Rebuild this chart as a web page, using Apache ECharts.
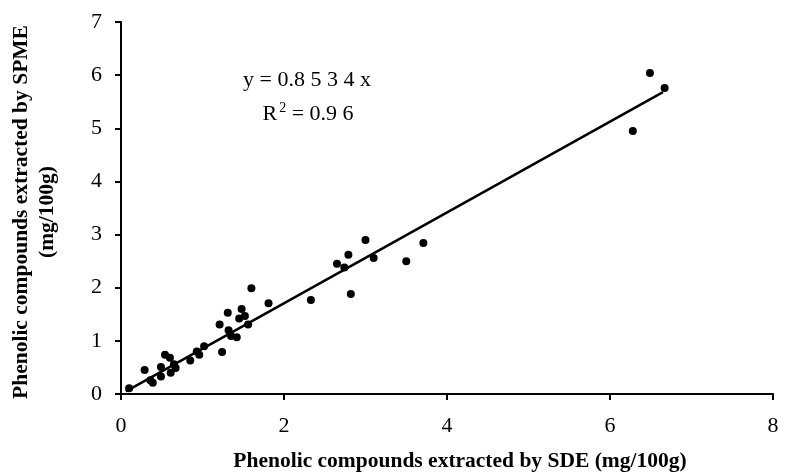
<!DOCTYPE html>
<html>
<head>
<meta charset="utf-8">
<script src="https://cdn.jsdelivr.net/npm/echarts@6/dist/echarts.min.js"></script>
<style>
  html, body { margin: 0; padding: 0; background: #fff; }
  #chart { width: 789px; height: 472px; }
</style>
</head>
<body>
<div id="chart"></div>
<script>
// SDE (x) vs SPME (y), mg/100g
const sdeValues = [0.10, 0.29, 0.36, 0.39, 0.49, 0.49, 0.54, 0.60, 0.61, 0.65, 0.67, 0.85, 0.93, 0.96, 1.02,
  1.21, 1.24, 1.31, 1.32, 1.35, 1.42, 1.45, 1.48, 1.52, 1.56, 1.60, 1.81, 2.33, 2.65, 2.74, 2.79, 2.82,
  3.00, 3.10, 3.50, 3.71, 6.28, 6.49, 6.67];
const spmeValues = [0.11, 0.45, 0.26, 0.21, 0.51, 0.33, 0.74, 0.68, 0.40, 0.56, 0.49, 0.63, 0.80, 0.74, 0.90,
  1.31, 0.79, 1.53, 1.20, 1.09, 1.07, 1.42, 1.60, 1.47, 1.31, 1.99, 1.71, 1.77, 2.45, 2.38, 2.62, 1.88,
  2.90, 2.56, 2.50, 2.84, 4.95, 6.04, 5.76];
// trend line end points
const trendX = [0.06, 6.65];
const trendY = [0.05, 5.68];
const xTicks = [0, 2, 4, 6, 8];
const yTicks = [0, 1, 2, 3, 4, 5, 6, 7];

const serif = '"Liberation Serif", "Times New Roman", serif';
const points = sdeValues.map((v, i) => [v, spmeValues[i]]);
const trend = trendX.map((v, i) => [v, trendY[i]]);

const chart = echarts.init(document.getElementById('chart'));
chart.setOption({
  animation: false,
  backgroundColor: '#fff',
  grid: { left: 121, right: 16, top: 22, bottom: 78 },
  xAxis: {
    type: 'value',
    min: xTicks[0],
    max: xTicks[xTicks.length - 1],
    interval: 2,
    splitLine: { show: false },
    axisLine: { lineStyle: { color: '#000', width: 2 } },
    axisTick: { length: 6, lineStyle: { color: '#000', width: 2 } },
    axisLabel: { color: '#000', fontFamily: serif, fontSize: 22, margin: 21 }
  },
  yAxis: {
    type: 'value',
    min: yTicks[0],
    max: yTicks[yTicks.length - 1],
    interval: 1,
    splitLine: { show: false },
    axisLine: { lineStyle: { color: '#000', width: 2 } },
    axisTick: { length: 6, lineStyle: { color: '#000', width: 2 } },
    axisLabel: { color: '#000', fontFamily: serif, fontSize: 22, margin: 19 }
  },
  series: [
    {
      type: 'scatter',
      symbolSize: 8,
      itemStyle: { color: '#000', opacity: 1 },
      data: points
    },
    {
      type: 'line',
      symbol: 'none',
      lineStyle: { color: '#000', width: 2.5 },
      data: trend
    }
  ],
  graphic: [
    {
      type: 'text', x: 460, y: 461,
      style: { text: 'Phenolic compounds extracted by SDE (mg/100g)', font: 'bold 21.5px ' + serif,
        fill: '#000', textAlign: 'center', textVerticalAlign: 'middle' }
    },
    {
      type: 'text', x: 21, y: 212, rotation: Math.PI / 2,
      style: { text: 'Phenolic compounds extracted by SPME', font: 'bold 21.5px ' + serif,
        fill: '#000', textAlign: 'center', textVerticalAlign: 'middle' }
    },
    {
      type: 'text', x: 47, y: 212, rotation: Math.PI / 2,
      style: { text: '(mg/100g)', font: 'bold 21.5px ' + serif,
        fill: '#000', textAlign: 'center', textVerticalAlign: 'middle' }
    },
    {
      type: 'text', x: 307, y: 80,
      style: { text: 'y = 0.8 5 3 4 x', font: '22px ' + serif,
        fill: '#000', textAlign: 'center', textVerticalAlign: 'middle' }
    },
    {
      type: 'text', x: 308, y: 114,
      style: {
        text: '{a|R}{s|2}{a| = 0.9 6}',
        textAlign: 'center', textVerticalAlign: 'middle',
        rich: {
          a: { fontFamily: serif, fontSize: 22, fill: '#000' },
          s: { fontFamily: serif, fontSize: 14, fill: '#000', padding: [0, 0, 12, 2] }
        }
      }
    }
  ]
});
</script>
</body>
</html>
